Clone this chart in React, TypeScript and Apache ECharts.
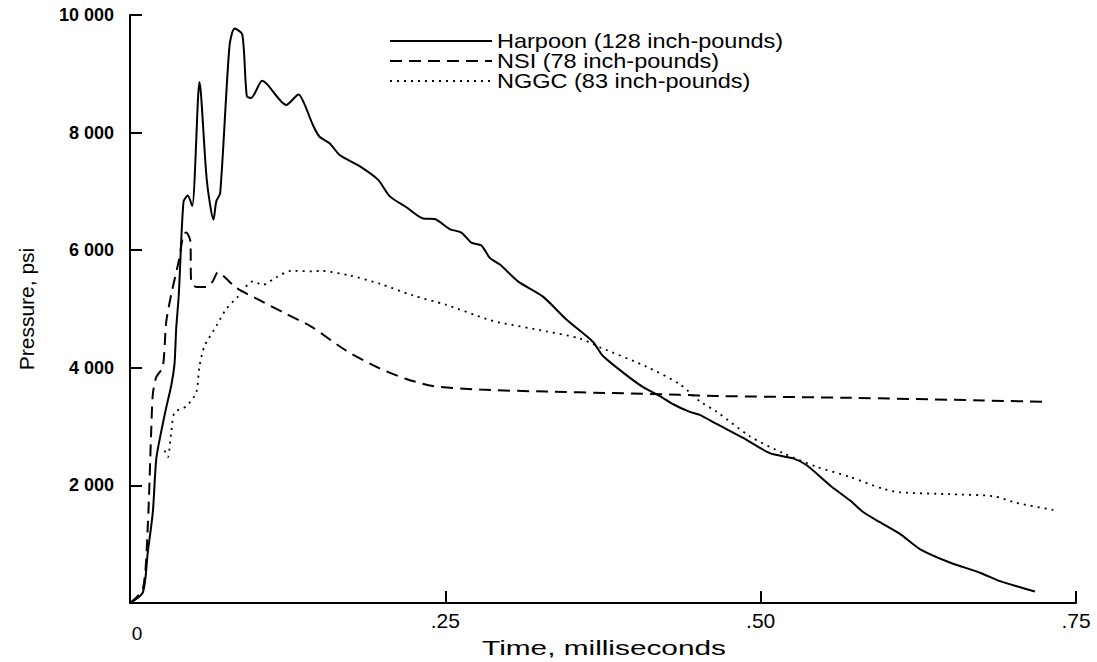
import React, { useEffect, useRef } from "react";
import * as echarts from "echarts";

// Time in milliseconds, pressure in psi
const harpoonTime = [0, 0.0102, 0.0141, 0.0181, 0.0208, 0.0247, 0.0287, 0.0327, 0.0353, 0.0366, 0.0387, 0.0424, 0.0458, 0.0493, 0.0551, 0.0609, 0.0662, 0.0684, 0.0715, 0.0789, 0.0829, 0.089, 0.0926, 0.0961, 0.1049, 0.1239, 0.1337, 0.1384, 0.145, 0.1503, 0.1582, 0.1662, 0.182, 0.1966, 0.2058, 0.2191, 0.2323, 0.2415, 0.2534, 0.2627, 0.2706, 0.2786, 0.2852, 0.2931, 0.3076, 0.3274, 0.346, 0.3671, 0.375, 0.3936, 0.4068, 0.42, 0.4306, 0.4438, 0.4517, 0.465, 0.4861, 0.5073, 0.5257, 0.5363, 0.5548, 0.5707, 0.5812, 0.5945, 0.6104, 0.6262, 0.65, 0.6738, 0.6897, 0.7029, 0.7175];
const harpoonPsi = [0, 180, 865, 1544, 2445, 2910, 3320, 3700, 4070, 4660, 5250, 6820, 6930, 6750, 8860, 7190, 6520, 6830, 6970, 9480, 9770, 9670, 8620, 8590, 8880, 8470, 8650, 8480, 8130, 7930, 7820, 7620, 7430, 7200, 6920, 6730, 6540, 6530, 6360, 6300, 6130, 6080, 5870, 5760, 5470, 5210, 4820, 4440, 4200, 3875, 3670, 3520, 3380, 3250, 3200, 3045, 2807, 2548, 2460, 2346, 2004, 1746, 1547, 1375, 1175, 918, 689, 515, 371, 284, 197];

const nsiTime = [0, 0.0102, 0.0141, 0.0168, 0.0181, 0.0208, 0.026, 0.0287, 0.0327, 0.0387, 0.0424, 0.0446, 0.0478, 0.0485, 0.0525, 0.0609, 0.0657, 0.0696, 0.0842, 0.1027, 0.1239, 0.1437, 0.1715, 0.1979, 0.2191, 0.2402, 0.2772, 0.3301, 0.383, 0.4359, 0.465, 0.5707, 0.6764, 0.7254];
const nsiPsi = [0, 236, 1312, 2915, 3550, 3840, 4015, 4775, 5250, 5820, 6270, 6300, 6160, 5480, 5375, 5375, 5475, 5620, 5360, 5150, 4915, 4700, 4290, 3990, 3810, 3690, 3630, 3595, 3570, 3540, 3520, 3490, 3445, 3420];

const nggcTime = [0.0274, 0.03, 0.0327, 0.0353, 0.0446, 0.0525, 0.0551, 0.0591, 0.0684, 0.0763, 0.0855, 0.0974, 0.1053, 0.116, 0.1279, 0.145, 0.1503, 0.1741, 0.1979, 0.2243, 0.2508, 0.2826, 0.2931, 0.3301, 0.3565, 0.3724, 0.4094, 0.4359, 0.4517, 0.465, 0.4914, 0.5178, 0.5443, 0.5707, 0.5971, 0.6104, 0.65, 0.6848, 0.7029, 0.732];
const nggcPsi = [2590, 2480, 2900, 3240, 3345, 3580, 4030, 4370, 4710, 5000, 5210, 5470, 5410, 5540, 5650, 5640, 5650, 5570, 5430, 5230, 5070, 4830, 4770, 4620, 4500, 4350, 4020, 3720, 3430, 3255, 2836, 2548, 2317, 2144, 1941, 1883, 1850, 1816, 1702, 1584];

const legendLabels = ["Harpoon (128 inch-pounds)", "NSI (78 inch-pounds)", "NGGC (83 inch-pounds)"];
const xTitle = "Time, milliseconds";
const yTitle = "Pressure, psi";
const xTicks = [0, 0.25, 0.5, 0.75];
const yTicks = [0, 2000, 4000, 6000, 8000, 10000];

const FONT = "'Liberation Sans', Arial, Helvetica, sans-serif";

const zip = (xs: number[], ys: number[]) => xs.map((x, i) => [x, ys[i]]);

export default function App() {
  const ref = useRef<HTMLDivElement>(null);
  useEffect(() => {
    if (!ref.current) return;
    const chart = echarts.init(ref.current, null, { renderer: "svg" });
    const dashes: any[] = [null, [12, 7], [2, 5]];
    const legendY = [41, 61, 81];
    const graphics: any[] = [];
    legendLabels.forEach((lab, i) => {
      graphics.push({
        type: "line",
        shape: { x1: 390, y1: legendY[i], x2: 492, y2: legendY[i] },
        style: { stroke: "#000", lineWidth: i === 2 ? 1.8 : 2, lineDash: dashes[i] },
      });
      graphics.push({
        type: "text",
        x: 497,
        y: legendY[i],
        scaleX: 1.12,
        style: { text: lab, fill: "#000", font: `21px ${FONT}`, textVerticalAlign: "middle", textAlign: "left" },
      });
    });
    graphics.push({
      type: "text",
      x: 137,
      y: 633,
      style: { text: "0", fill: "#000", font: `19px ${FONT}`, textVerticalAlign: "middle", textAlign: "center" },
    });
    graphics.push({
      type: "text",
      x: 604,
      y: 648,
      scaleX: 1.42,
      style: { text: xTitle, fill: "#000", font: `21px ${FONT}`, textVerticalAlign: "middle", textAlign: "center" },
    });
    chart.setOption({
      animation: false,
      backgroundColor: "#fff",
      grid: { left: 130, right: 21, top: 15, bottom: 59, containLabel: false, outerBoundsMode: "none" },
      xAxis: {
        type: "value",
        min: xTicks[0],
        max: xTicks[xTicks.length - 1],
        interval: 0.25,
        axisLine: { show: true, lineStyle: { color: "#000", width: 2 } },
        axisTick: { show: true, inside: true, length: 12, lineStyle: { color: "#000", width: 2 } },
        splitLine: { show: false },
        axisLabel: {
          color: "#000",
          fontSize: 21,
          fontFamily: FONT,
          margin: 7,
          formatter: (v: number) => (v === 0 ? "" : "." + String(Math.round(v * 100)).padStart(2, "0")),
        },
      },
      yAxis: {
        type: "value",
        min: yTicks[0],
        max: yTicks[yTicks.length - 1],
        interval: 2000,
        name: yTitle,
        nameLocation: "middle",
        nameGap: 93,
        nameRotate: 90,
        nameTextStyle: { color: "#000", fontSize: 21, fontFamily: FONT },
        axisLine: { show: true, lineStyle: { color: "#000", width: 2 } },
        axisTick: { show: true, inside: true, length: 12, lineStyle: { color: "#000", width: 2 } },
        splitLine: { show: false },
        axisLabel: {
          color: "#000",
          fontSize: 18,
          fontWeight: "bold",
          fontFamily: FONT,
          margin: 16,
          formatter: (v: number) => (v === 0 ? "" : String(v).replace(/\B(?=(\d{3})+(?!\d))/g, " ")),
        },
      },
      series: [
        {
          name: legendLabels[0],
          type: "line",
          data: zip(harpoonTime, harpoonPsi),
          symbol: "none",
          smooth: 0.25,
          lineStyle: { color: "#000", width: 2 },
        },
        {
          name: legendLabels[1],
          type: "line",
          data: zip(nsiTime, nsiPsi),
          symbol: "none",
          smooth: 0.25,
          lineStyle: { color: "#000", width: 2, type: [12, 7] },
        },
        {
          name: legendLabels[2],
          type: "line",
          data: zip(nggcTime, nggcPsi),
          symbol: "none",
          smooth: 0.25,
          lineStyle: { color: "#000", width: 1.8, type: [2, 5] },
        },
      ],
      graphic: graphics,
    });
    return () => chart.dispose();
  }, []);
  return <div ref={ref} style={{ position: "absolute", left: 0, top: 0, width: 1097, height: 662 }} />;
}
